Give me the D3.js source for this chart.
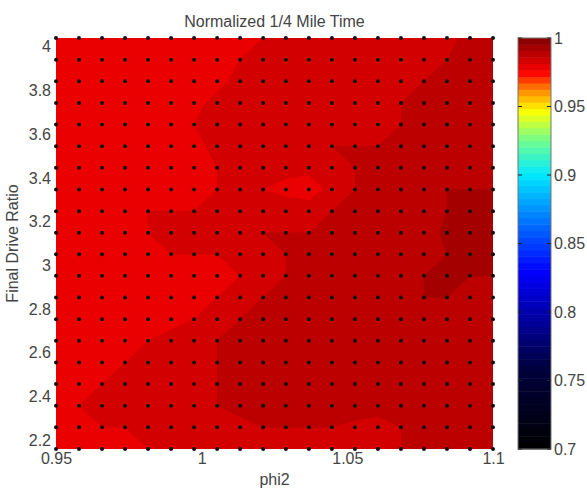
<!DOCTYPE html>
<html>
<head>
<meta charset="utf-8">
<script src="https://cdn.jsdelivr.net/npm/d3@7"></script>
<style>
  body { margin: 0; background: #fff; }
  text { font-family: "Liberation Sans", Arial, sans-serif; fill: #444; }
</style>
</head>
<body>
<div id="chart"></div>
<script>
// grid of the sweep
var phi2Values = [0.95, 0.9579, 0.9658, 0.9737, 0.9816, 0.9895, 0.9974, 1.0053, 1.0132, 1.0211,
                  1.0289, 1.0368, 1.0447, 1.0526, 1.0605, 1.0684, 1.0763, 1.0842, 1.0921, 1.1];
var ratioValues = [2.16, 2.259, 2.358, 2.457, 2.556, 2.655, 2.754, 2.853, 2.952, 3.051,
                   3.149, 3.248, 3.347, 3.446, 3.545, 3.644, 3.743, 3.842, 3.941, 4.04];

// normalized time, one row per ratio, top row (4.04) first
var timeRows = [
  [0.979,0.979,0.979,0.979,0.980,0.982,0.983,0.983,0.983,0.984,0.984,0.985,0.985,0.985,0.985,0.986,0.986,0.986,0.988,0.988],
  [0.979,0.979,0.979,0.979,0.981,0.982,0.982,0.983,0.984,0.985,0.985,0.985,0.986,0.985,0.985,0.985,0.986,0.987,0.989,0.989],
  [0.979,0.979,0.979,0.980,0.982,0.982,0.982,0.983,0.985,0.986,0.986,0.984,0.984,0.984,0.986,0.986,0.987,0.987,0.988,0.989],
  [0.980,0.980,0.980,0.981,0.982,0.982,0.983,0.985,0.986,0.986,0.985,0.984,0.984,0.985,0.986,0.987,0.987,0.988,0.988,0.989],
  [0.981,0.981,0.981,0.982,0.983,0.983,0.984,0.986,0.986,0.986,0.986,0.985,0.985,0.986,0.986,0.987,0.989,0.990,0.990,0.990],
  [0.981,0.981,0.981,0.982,0.983,0.983,0.983,0.985,0.986,0.986,0.986,0.986,0.987,0.987,0.987,0.988,0.990,0.991,0.991,0.991],
  [0.980,0.980,0.981,0.982,0.982,0.982,0.983,0.984,0.985,0.985,0.985,0.985,0.986,0.987,0.988,0.988,0.989,0.992,0.992,0.992],
  [0.980,0.980,0.981,0.982,0.983,0.983,0.983,0.984,0.984,0.984,0.983,0.982,0.985,0.987,0.988,0.989,0.991,0.993,0.993,0.993],
  [0.981,0.982,0.982,0.983,0.984,0.984,0.984,0.985,0.986,0.986,0.986,0.986,0.987,0.987,0.989,0.990,0.991,0.993,0.994,0.994],
  [0.982,0.982,0.982,0.983,0.984,0.984,0.984,0.985,0.985,0.987,0.987,0.987,0.987,0.989,0.990,0.991,0.991,0.994,0.994,0.994],
  [0.982,0.982,0.982,0.982,0.982,0.984,0.984,0.984,0.985,0.985,0.987,0.987,0.988,0.988,0.990,0.991,0.992,0.993,0.993,0.993],
  [0.981,0.981,0.981,0.981,0.982,0.982,0.983,0.983,0.984,0.986,0.987,0.987,0.987,0.989,0.990,0.991,0.993,0.993,0.993,0.993],
  [0.981,0.981,0.981,0.981,0.981,0.982,0.983,0.984,0.986,0.987,0.987,0.988,0.988,0.988,0.989,0.992,0.993,0.993,0.992,0.992],
  [0.981,0.981,0.981,0.981,0.982,0.983,0.984,0.986,0.987,0.987,0.988,0.988,0.988,0.988,0.989,0.991,0.992,0.992,0.991,0.991],
  [0.981,0.981,0.981,0.982,0.984,0.985,0.986,0.987,0.987,0.988,0.988,0.988,0.988,0.988,0.989,0.989,0.989,0.989,0.989,0.989],
  [0.981,0.981,0.982,0.984,0.985,0.985,0.986,0.987,0.988,0.989,0.989,0.988,0.988,0.988,0.988,0.988,0.988,0.988,0.988,0.988],
  [0.981,0.982,0.984,0.985,0.985,0.986,0.986,0.987,0.988,0.989,0.990,0.989,0.989,0.988,0.987,0.987,0.987,0.988,0.989,0.989],
  [0.983,0.984,0.985,0.985,0.985,0.985,0.986,0.987,0.988,0.990,0.990,0.990,0.990,0.989,0.988,0.988,0.988,0.990,0.990,0.990],
  [0.980,0.980,0.984,0.984,0.984,0.985,0.985,0.985,0.986,0.987,0.987,0.987,0.987,0.986,0.986,0.987,0.989,0.989,0.989,0.989],
  [0.980,0.982,0.983,0.983,0.984,0.984,0.984,0.984,0.984,0.984,0.984,0.985,0.985,0.985,0.985,0.987,0.988,0.988,0.988,0.988]
];

var contourLevels = [0.970, 0.978, 0.981, 0.984, 0.987, 0.990, 0.993, 0.996];

var xTicks = [0.95, 1, 1.05, 1.1];
var yTicks = [2.2, 2.4, 2.6, 2.8, 3, 3.2, 3.4, 3.6, 3.8, 4];
var cbarTicks = [0.7, 0.75, 0.8, 0.85, 0.9, 0.95, 1];

// colormap stops (black-blue-cyan-yellow-red-darkred)
var cmapValues = [0.7, 0.76, 0.83, 0.865, 0.9, 0.925, 0.947, 0.963, 0.975, 1.0];
var cmapColors = ["#000000", "#000040", "#0000ff", "#0070ff", "#00e8ff", "#70ff90", "#ffff00", "#ff8000", "#ff0000", "#800000"];

var svgWidth = 587;
var svgHeight = 491;

var plot = { left: 56, right: 493, top: 38, bottom: 449 };
var cbar = { left: 518, right: 551 };
var fontSize = 16;

var svg = d3.select("#chart")
    .append("svg")
    .attr("width", svgWidth)
    .attr("height", svgHeight);

var xScale = d3.scaleLinear().domain([0.95, 1.1]).range([plot.left, plot.right]);
var yScale = d3.scaleLinear().domain([2.16, 4.04]).range([plot.bottom, plot.top]);
var cScale = d3.scaleLinear().domain([0.7, 1]).range([plot.bottom, plot.top]);

var cmap = d3.scaleLinear().domain(cmapValues).range(cmapColors).clamp(true);
// 64 flat colours like a matlab colormap
var nColors = 64;
function flatColor(v) {
    var k = Math.min(nColors - 1, Math.max(0, Math.floor((v - 0.7) / 0.3 * nColors)));
    return cmap(0.7 + (k + 0.5) * 0.3 / nColors);
}

// clip for the filled contours
svg.append("clipPath").attr("id", "plotClip")
    .append("rect")
    .attr("x", plot.left).attr("y", plot.top)
    .attr("width", plot.right - plot.left).attr("height", plot.bottom - plot.top);

var nx = phi2Values.length, ny = ratioValues.length;
var flat = [];
timeRows.forEach(function(row) { row.forEach(function(v) { flat.push(v); }); });

var contours = d3.contours().size([nx, ny]).thresholds(contourLevels)(flat);

var dx = (phi2Values[nx - 1] - phi2Values[0]) / (nx - 1);
var dy = (ratioValues[ny - 1] - ratioValues[0]) / (ny - 1);
var gridProj = d3.geoTransform({
    point: function(cx, cy) {
        var px = xScale(phi2Values[0] + (cx - 0.5) * dx);
        var py = yScale(ratioValues[ny - 1] - (cy - 0.5) * dy);
        this.stream.point(px, py);
    }
});
var contourPath = d3.geoPath(gridProj);

svg.append("g")
    .attr("clip-path", "url(#plotClip)")
    .selectAll("path")
    .data(contours)
    .enter()
    .append("path")
    .attr("d", contourPath)
    .attr("fill", d => flatColor(d.value))
    .attr("stroke", d => flatColor(d.value))
    .attr("stroke-width", 0.5);

// sample points
var points = [];
ratioValues.forEach(function(r) {
    phi2Values.forEach(function(p) { points.push({ phi2: p, ratio: r }); });
});
svg.append("g")
    .selectAll("circle")
    .data(points)
    .enter()
    .append("circle")
    .attr("cx", d => xScale(d.phi2))
    .attr("cy", d => yScale(d.ratio))
    .attr("r", 2)
    .attr("fill", "#111");

// axes
var bottomAxis = d3.axisBottom(xScale).tickValues(xTicks).tickSize(0).tickPadding(4)
    .tickFormat(d3.format("~g"));
var leftAxis = d3.axisLeft(yScale).tickValues(yTicks).tickSize(0).tickPadding(5)
    .tickFormat(d3.format("~g"));

var xAxis = svg.append("g")
    .attr("transform", `translate(0, ${plot.bottom})`)
    .call(bottomAxis);
var yAxis = svg.append("g")
    .attr("transform", `translate(${plot.left}, 0)`)
    .call(leftAxis);
[xAxis, yAxis].forEach(function(a) {
    a.select(".domain").remove();
    a.selectAll("text").attr("font-size", fontSize).attr("fill", "#444");
});

// colorbar
var bandH = (plot.bottom - plot.top) / nColors;
svg.append("g")
    .selectAll("rect")
    .data(d3.range(nColors))
    .enter()
    .append("rect")
    .attr("x", cbar.left)
    .attr("width", cbar.right - cbar.left)
    .attr("y", k => plot.bottom - (k + 1) * bandH)
    .attr("height", bandH + 0.5)
    .attr("fill", k => cmap(0.7 + (k + 0.5) * 0.3 / nColors));

svg.append("rect")
    .attr("x", cbar.left).attr("y", plot.top)
    .attr("width", cbar.right - cbar.left).attr("height", plot.bottom - plot.top)
    .attr("fill", "none").attr("stroke", "#777").attr("stroke-width", 1);

var cbarG = svg.append("g");
cbarG.selectAll("line.l")
    .data(cbarTicks)
    .enter()
    .append("line")
    .attr("x1", cbar.left).attr("x2", cbar.left + 4)
    .attr("y1", d => cScale(d)).attr("y2", d => cScale(d))
    .attr("stroke", "#222");
cbarG.selectAll("line.r")
    .data(cbarTicks)
    .enter()
    .append("line")
    .attr("x1", cbar.right - 4).attr("x2", cbar.right)
    .attr("y1", d => cScale(d)).attr("y2", d => cScale(d))
    .attr("stroke", "#222");
cbarG.selectAll("text")
    .data(cbarTicks)
    .enter()
    .append("text")
    .attr("x", cbar.right + 3)
    .attr("y", d => cScale(d))
    .attr("dy", "0.35em")
    .attr("font-size", fontSize)
    .text(d => d3.format("~g")(d));

// labels
svg.append("text")
    .attr("x", (plot.left + plot.right) / 2)
    .attr("y", 27)
    .attr("text-anchor", "middle")
    .attr("font-size", fontSize)
    .text("Normalized 1/4 Mile Time");

svg.append("text")
    .attr("x", (plot.left + plot.right) / 2)
    .attr("y", 485)
    .attr("text-anchor", "middle")
    .attr("font-size", fontSize)
    .text("phi2");

svg.append("text")
    .attr("transform", `translate(18, ${(plot.top + plot.bottom) / 2}) rotate(-90)`)
    .attr("text-anchor", "middle")
    .attr("font-size", fontSize)
    .text("Final Drive Ratio");
</script>
</body>
</html>
